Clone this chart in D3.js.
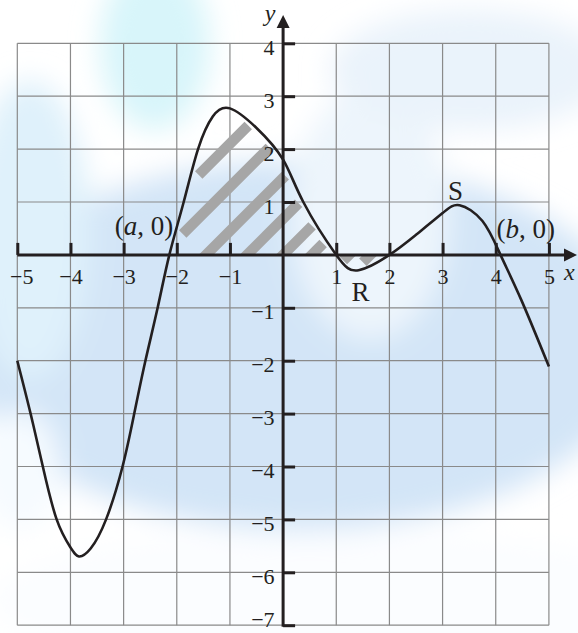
<!DOCTYPE html>
<html>
<head>
<meta charset="utf-8">
<script src="https://cdn.jsdelivr.net/npm/d3@7"></script>
<style>
  html, body { margin: 0; padding: 0; background: #ffffff; }
  svg { display: block; }
  text { font-family: "Liberation Serif", "Times New Roman", serif; fill: #231f20; }
</style>
</head>
<body>
<svg id="chart" width="578" height="633"></svg>
<script>
// Tick values on each axis
const xTicks = [-5, -4, -3, -2, -1, 1, 2, 3, 4, 5];
const yTicks = [-7, -6, -5, -4, -3, -2, -1, 1, 2, 3, 4];

// Points on the curve y = f(x)
const curveX = [-5, -4.75, -4.52, -4.26, -4.0, -3.84, -3.62, -3.33, -3.02, -2.80, -2.59, -2.36,
                -2.14, -1.87, -1.6, -1.32, -1.0, -0.5, 0, 0.38, 1, 1.42, 2, 2.5, 3, 3.32,
                3.75, 4.09, 4.48, 5];
const curveY = [-2.0, -3, -4, -5, -5.53, -5.70, -5.55, -5, -4, -3, -2, -1,
                0, 1, 2, 2.62, 2.77, 2.40, 1.80, 1.0, 0, -0.29, 0, 0.38, 0.79, 0.94,
                0.64, 0, -0.85, -2.11];

// Named points on the curve
const pointA = { x: -2.14, y: 0 };
const pointB = { x: 4.09, y: 0 };
const pointS = { x: 3.32, y: 0.94 };
const pointR = { x: 1.42, y: -0.29 };

// Shaded region runs from a to 2; hatch stripes cross the x-axis at these x values
const shadeFrom = -2.14, shadeTo = 2;
const hatchX0 = [-3.09, -2.28, -1.45, -0.68, 0, 0.54, 1.24, 1.64];

const svg = d3.select("#chart");
const W = 578, H = 633;

const x = d3.scaleLinear().domain([-5, 5]).range([17.3, 548.9]);
const y = d3.scaleLinear().domain([-7, 4]).range([625.2, 43.3]);
const ink = "#231f20";

// ---- soft background wash ----
const defs = svg.append("defs");
defs.append("filter").attr("id", "soft").attr("x", "-20%").attr("y", "-20%")
  .attr("width", "140%").attr("height", "140%")
  .append("feGaussianBlur").attr("stdDeviation", 14);

const bg = svg.append("g");
bg.append("rect").attr("width", W).attr("height", H).attr("fill", "#ffffff");
const wash = bg.append("g").attr("filter", "url(#soft)");
wash.append("ellipse").attr("cx", 300).attr("cy", 345).attr("rx", 340).attr("ry", 185).attr("fill", "#d3e5f7");
wash.append("ellipse").attr("cx", 370).attr("cy", 215).attr("rx", 80).attr("ry", 125).attr("fill", "#edf5fc");
wash.append("ellipse").attr("cx", 155).attr("cy", 45).attr("rx", 55).attr("ry", 85).attr("fill", "#d8f5fa");
wash.append("ellipse").attr("cx", 30).attr("cy", 230).attr("rx", 60).attr("ry", 150).attr("fill", "#dff1fb");
wash.append("ellipse").attr("cx", 470).attr("cy", 70).attr("rx", 140).attr("ry", 60).attr("fill", "#eaf3fb");
wash.append("ellipse").attr("cx", 330).attr("cy", 600).attr("rx", 340).attr("ry", 70).attr("fill", "#fbfdff");
wash.append("ellipse").attr("cx", 20).attr("cy", 470).attr("rx", 40).attr("ry", 60).attr("fill", "#f6fbff");

// ---- grid ----
const grid = svg.append("g").attr("stroke", "#8a8a8a").attr("stroke-width", 1.2);
grid.selectAll("line.v").data(d3.range(-5, 6)).join("line")
  .attr("x1", d => x(d)).attr("x2", d => x(d))
  .attr("y1", y(-7)).attr("y2", y(4));
grid.selectAll("line.h").data(d3.range(-7, 5)).join("line")
  .attr("y1", d => y(d)).attr("y2", d => y(d))
  .attr("x1", x(-5)).attr("x2", x(5));

// ---- curve ----
const pts = curveX.map((v, i) => [v, curveY[i]]);
const curveGen = d3.curveNatural;
const line = d3.line().x(d => x(d[0])).y(d => y(d[1])).curve(curveGen);

const hatchG = svg.append("g").attr("clip-path", "url(#region)");

const curvePath = svg.append("path")
  .attr("d", line(pts))
  .attr("fill", "none")
  .attr("stroke", ink)
  .attr("stroke-width", 2.6)
  .attr("stroke-linejoin", "round");

// Sample the drawn curve so the shading follows it exactly
const node = curvePath.node();
const total = node.getTotalLength();
const samples = [];
for (let i = 0; i <= 2000; i++) {
  const p = node.getPointAtLength(total * i / 2000);
  samples.push([p.x, p.y]);
}
samples.sort((a, b) => a[0] - b[0]);

// Shaded region: between the curve and the x-axis from a to 2
const y0px = y(0);
const inside = samples.filter(p => p[0] >= x(shadeFrom) && p[0] <= x(shadeTo));
const regionD = "M" + x(shadeFrom) + "," + y0px + "L" +
  inside.map(p => p[0].toFixed(2) + "," + p[1].toFixed(2)).join("L") +
  "L" + x(shadeTo) + "," + y0px + "Z";
defs.append("clipPath").attr("id", "region").append("path").attr("d", regionD);

const near = samples.filter(p => p[0] > x(shadeFrom) - 60 && p[0] < x(shadeTo) + 60);
function curveAt(px) {
  let lo = 0, hi = samples.length - 1;
  if (px <= samples[0][0]) return samples[0][1];
  if (px >= samples[hi][0]) return samples[hi][1];
  while (hi - lo > 1) { const mid = (lo + hi) >> 1; if (samples[mid][0] <= px) lo = mid; else hi = mid; }
  const a = samples[lo], b = samples[hi];
  const t = (px - a[0]) / ((b[0] - a[0]) || 1);
  return a[1] + t * (b[1] - a[1]);
}
function distToCurve(px, py) {
  let best = Infinity;
  for (const p of near) {
    const dx = p[0] - px, dy = p[1] - py;
    const d = dx * dx + dy * dy;
    if (d < best) best = d;
  }
  return Math.sqrt(best);
}
const bandW = 10.5;
function okPoint(px, py) {
  const cf = curveAt(px);
  const above = cf < y0px;
  const onAxisSide = above ? py >= cf : py <= cf;
  const gap = above ? 3 : 1.5;
  return onAxisSide && distToCurve(px, py) >= gap;
}
function okSection(cx, cy) {
  const o = bandW / 2 * Math.SQRT1_2;
  return okPoint(cx, cy) && okPoint(cx + o, cy + o) && okPoint(cx - o, cy - o);
}

const segs = [];
hatchX0.forEach(x0 => {
  const sx = x(x0), sy = y0px;
  let run = null;
  for (let s = -260; s <= 260; s += 0.5) {
    const cx = sx + s * Math.SQRT1_2, cy = sy - s * Math.SQRT1_2;
    const inX = cx > x(shadeFrom) - 20 && cx < x(shadeTo) + 20;
    if (inX && okSection(cx, cy)) {
      if (!run) run = { a: [cx, cy] };
      run.b = [cx, cy];
    } else if (run) { segs.push(run); run = null; }
  }
  if (run) segs.push(run);
});
hatchG.selectAll("line").data(segs).join("line")
  .attr("x1", d => d.a[0]).attr("y1", d => d.a[1])
  .attr("x2", d => d.b[0]).attr("y2", d => d.b[1])
  .attr("stroke", "#a6a6a6").attr("stroke-width", bandW).attr("stroke-linecap", "butt");

// bring the curve above the hatch
curvePath.raise();

// ---- axes ----
const axisG = svg.append("g");
axisG.append("line")
  .attr("x1", x(-5)).attr("x2", 566).attr("y1", y0px).attr("y2", y0px)
  .attr("stroke", ink).attr("stroke-width", 3);
axisG.append("path")
  .attr("d", `M577,${y0px} L564,${y0px - 6.5} L564,${y0px + 6.5} Z`).attr("fill", ink);
axisG.append("line")
  .attr("x1", x(0)).attr("x2", x(0)).attr("y1", y(-7) + 1.5).attr("y2", 27)
  .attr("stroke", ink).attr("stroke-width", 3);
axisG.append("path")
  .attr("d", `M${x(0)},15 L${x(0) - 6.5},28 L${x(0) + 6.5},28 Z`).attr("fill", ink);

const fmt = d3.format("d");
const xAxis = svg.append("g").attr("transform", `translate(0,${y0px})`)
  .call(d3.axisBottom(x).tickValues(xTicks).tickSize(-12).tickPadding(13).tickFormat(fmt));
const yAxis = svg.append("g").attr("transform", `translate(${x(0)},0)`)
  .call(d3.axisLeft(y).tickValues(yTicks).tickSize(-12).tickPadding(8.5).tickFormat(fmt));
[xAxis, yAxis].forEach(g => {
  g.select(".domain").remove();
  g.attr("font-family", null).attr("font-size", null);
  g.selectAll(".tick line").attr("stroke", ink).attr("stroke-width", 3);
  g.selectAll(".tick text").attr("fill", ink).style("font-size", "22px");
});
yAxis.selectAll(".tick text").attr("dy", d => d === -7 ? "0.04em" : "0.5em");
// keep the leftmost label inside the frame
xAxis.selectAll(".tick text").each(function () {
  const bb = this.getBBox();
  const tr = this.parentNode.transform.baseVal.consolidate().matrix.e;
  if (tr + bb.x < 10) d3.select(this).attr("x", 10 - (tr + bb.x));
});

// axis names
svg.append("text").attr("x", x(0) - 13).attr("y", 21).attr("text-anchor", "middle")
  .style("font-size", "24px").style("font-style", "italic").text("y");
svg.append("text").attr("x", 564).attr("y", 280)
  .style("font-size", "24px").style("font-style", "italic").text("x");

// ---- point labels ----
function pointLabel(px, py, anchor, letter) {
  const t = svg.append("text").attr("x", px).attr("y", py).attr("text-anchor", anchor)
    .style("font-size", "27px");
  t.append("tspan").text("(");
  t.append("tspan").style("font-style", "italic").text(letter);
  t.append("tspan").text(", 0)");
}
pointLabel(x(pointA.x) + 4, y(pointA.y) - 20, "end", "a");
pointLabel(x(pointB.x) - 4, y(pointB.y) - 17, "start", "b");

svg.append("text").attr("x", x(pointS.x) - 4).attr("y", y(pointS.y) - 5)
  .attr("text-anchor", "middle").style("font-size", "27px").text("S");
svg.append("text").attr("x", x(pointR.x) + 2).attr("y", y(pointR.y) + 31)
  .attr("text-anchor", "middle").style("font-size", "27px").text("R");
</script>
</body>
</html>
